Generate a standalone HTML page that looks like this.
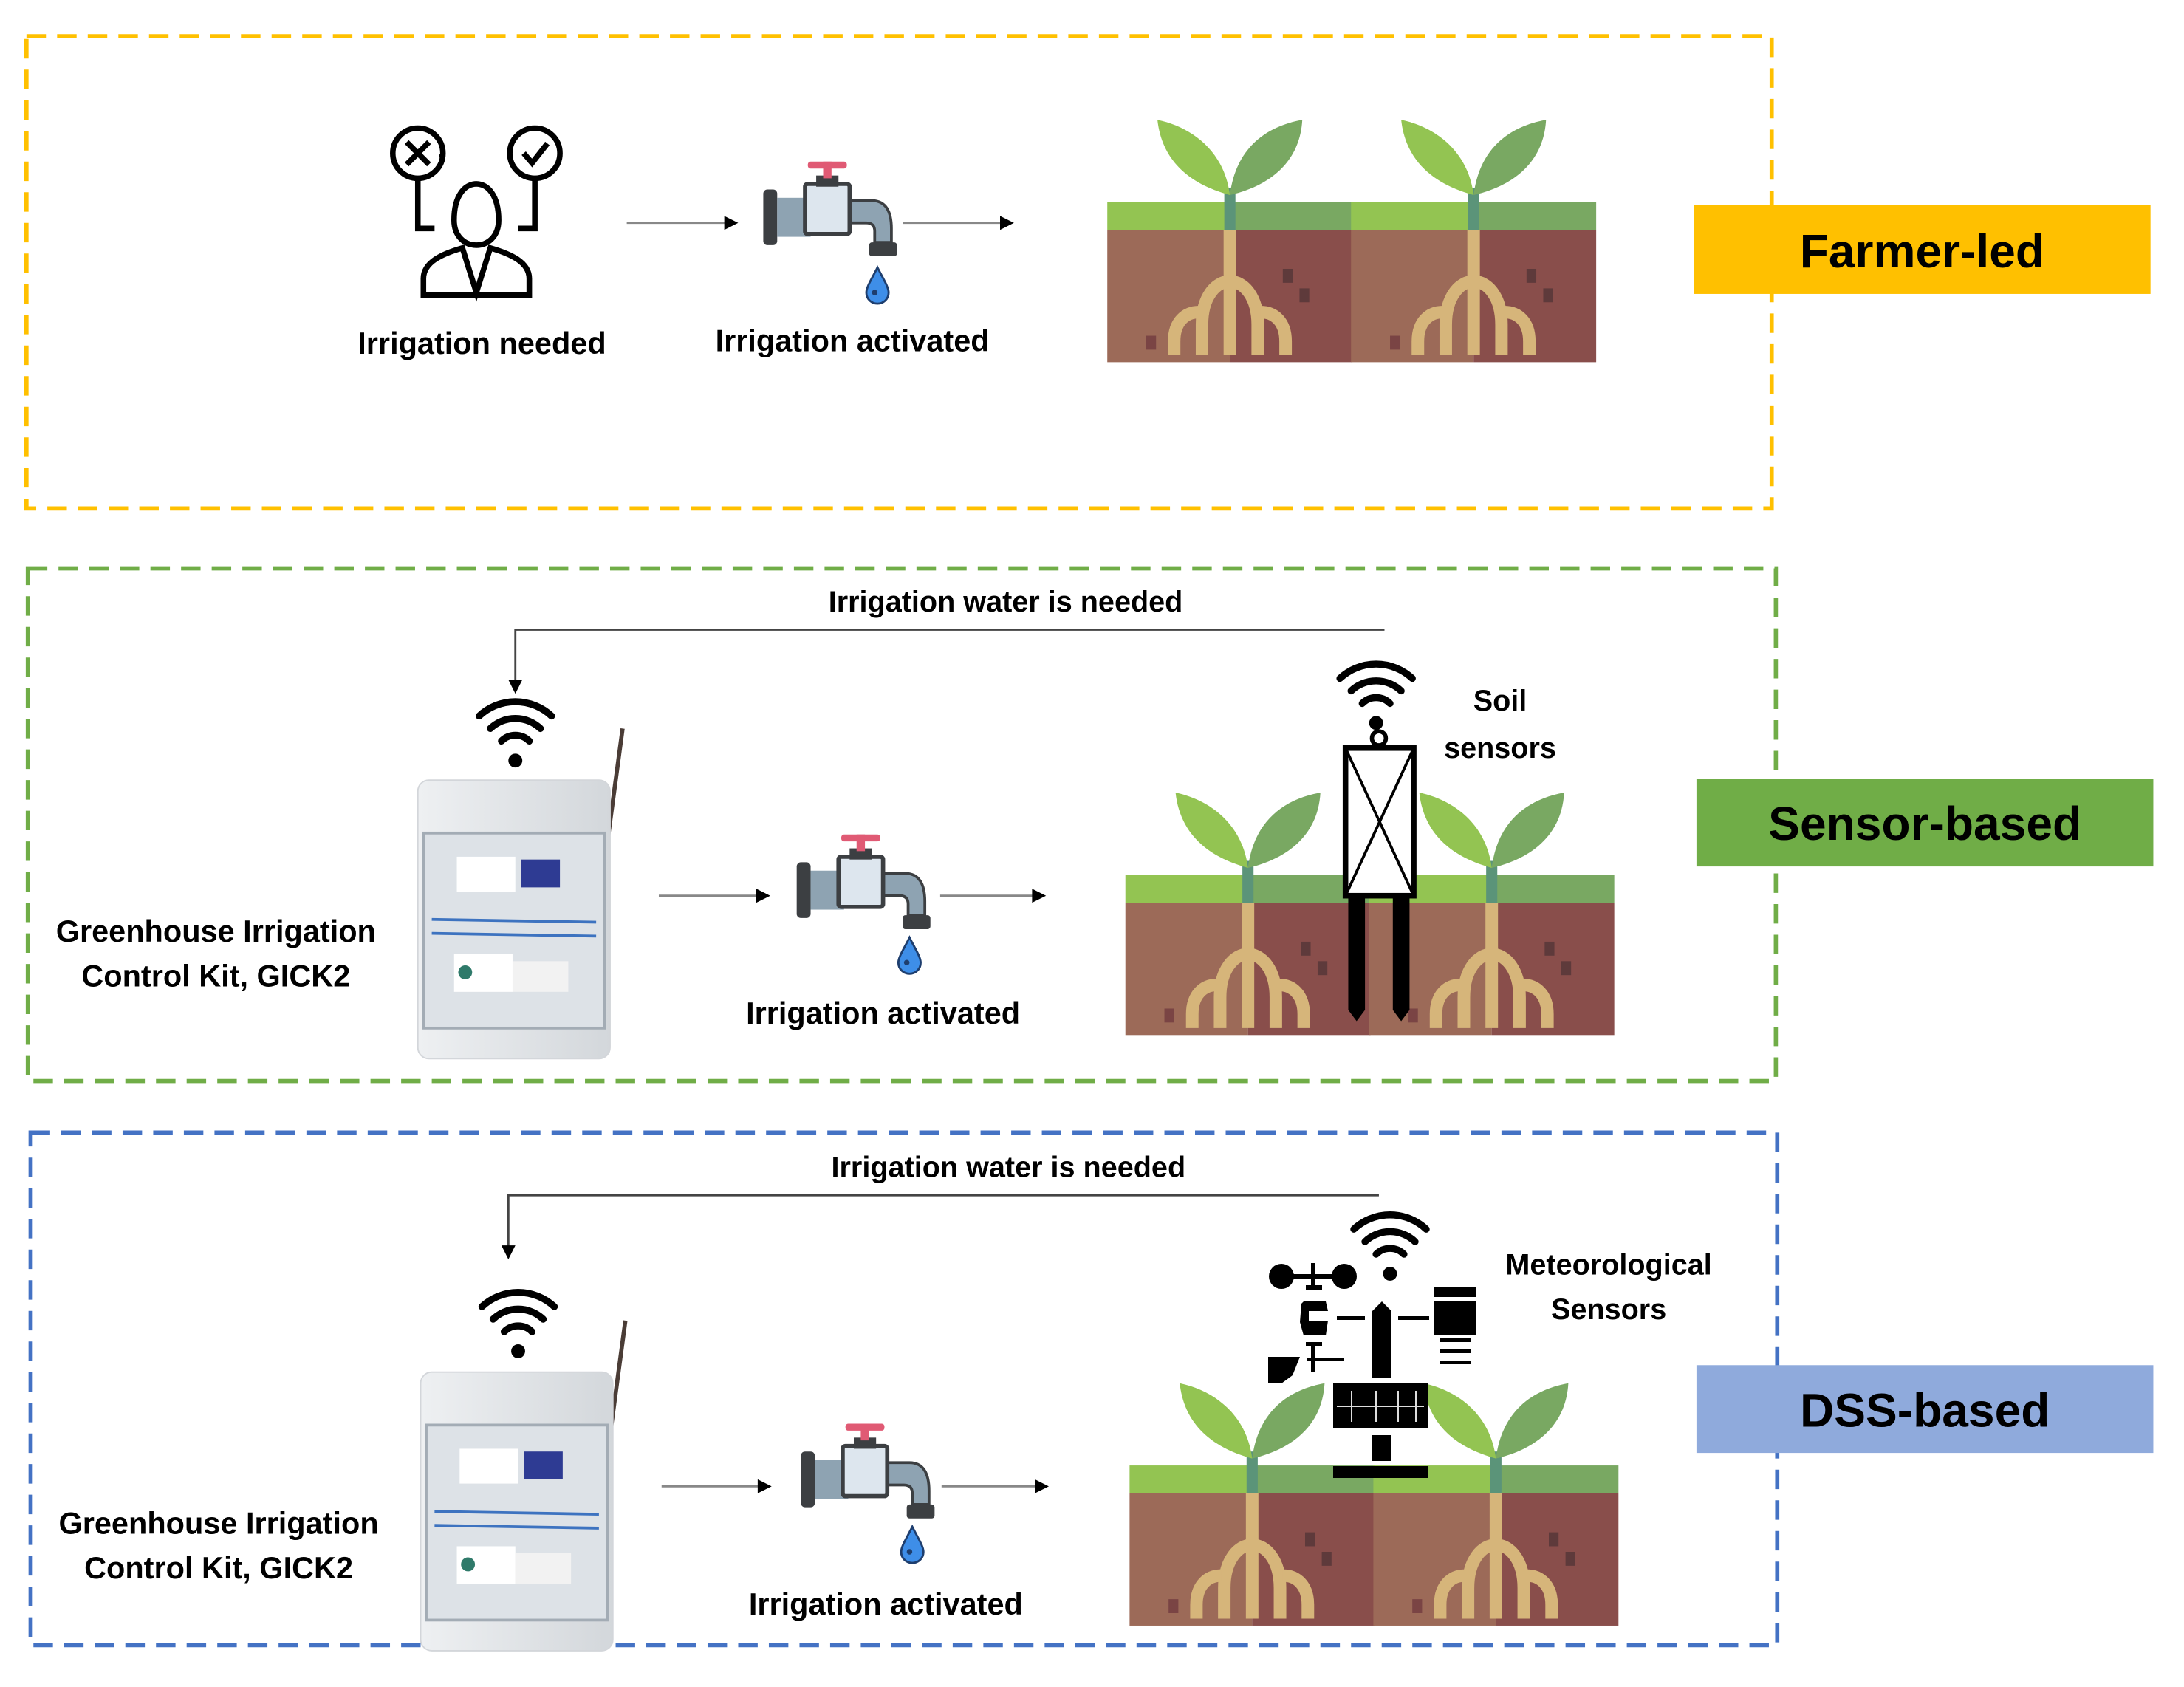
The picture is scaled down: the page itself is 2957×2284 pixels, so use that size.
<!DOCTYPE html>
<html><head><meta charset="utf-8"><style>
html,body{margin:0;padding:0;background:#fff;}
svg{display:block;}
text{font-family:"Liberation Sans",sans-serif;}
</style></head><body>
<svg width="2957" height="2284" viewBox="0 0 2957 2284" xmlns="http://www.w3.org/2000/svg">
<defs>
<g id="tile">
  <rect x="0" y="82" width="88" height="95" fill="#9c6a58"/>
  <rect x="88" y="82" width="88" height="95" fill="#894e4b"/>
  <rect x="0" y="62" width="88" height="20" fill="#93c452"/>
  <rect x="88" y="62" width="88" height="20" fill="#79a862"/>
  <rect x="84" y="52" width="8" height="30" fill="#5b9479"/>
  <path d="M88,57 C70,52 40,40 36,3 C60,8 84,25 88,57 Z" fill="#93c452"/>
  <path d="M88,57 C92,25 112,8 140,3 C138,38 110,52 88,57 Z" fill="#79a862"/>
  <g fill="none" stroke="#d6b57a" stroke-width="9">
    <line x1="88" y1="82" x2="88" y2="172"/>
    <path d="M68,172 V150 C68,130 78,119 88,119 C98,119 108,130 108,150 V172"/>
    <path d="M48,172 V162 C48,148 56,141 66,141"/>
    <path d="M128,172 V162 C128,148 120,141 110,141"/>
  </g>
  <rect x="126" y="110" width="7" height="10" fill="#5e3a3b"/>
  <rect x="138" y="124" width="7" height="10" fill="#5e3a3b"/>
  <rect x="28" y="158" width="7" height="10" fill="#7a4444"/>
</g>
<g id="plants">
  <use href="#tile" x="0" y="0"/>
  <use href="#tile" x="175" y="0"/>
</g>
<g id="faucet">
  <rect x="0" y="14" width="10" height="40" rx="3" fill="#3c3f42"/>
  <rect x="10" y="20" width="24" height="28" fill="#8ea3b2"/>
  <path d="M60,22 H78 C88,22 92,30 92,42 V52 H80 V44 C80,40 78,38 74,38 H60 Z" fill="#8ea3b2" stroke="#3c3f42" stroke-width="2"/>
  <rect x="76" y="52" width="20" height="10" rx="2" fill="#3c3f42"/>
  <rect x="30" y="10" width="32" height="36" rx="2" fill="#dde6ee" stroke="#3c3f42" stroke-width="3"/>
  <rect x="38" y="4" width="16" height="8" fill="#3c3f42"/>
  <rect x="43" y="-6" width="6" height="12" fill="#e05a74"/>
  <rect x="32" y="-6" width="28" height="5" rx="2" fill="#e05a74"/>
</g>
<g id="drop">
  <path d="M0,-12 C4,-4 8,2 8,6 C8,11 4,14 0,14 C-4,14 -8,11 -8,6 C-8,2 -4,-4 0,-12 Z" fill="#3e8ee8" stroke="#1e3e6e" stroke-width="1.5"/>
  <circle cx="-2" cy="6" r="2" fill="#1e3e6e"/>
</g>
<g id="wifi" fill="none" stroke="#000" stroke-width="5" stroke-linecap="round">
  <path d="M-26,-10 A38,38 0 0 1 26,-10"/>
  <path d="M-18,-1 A26,26 0 0 1 18,-1"/>
  <path d="M-10,8 A14,14 0 0 1 10,8"/>
  <circle cx="0" cy="22" r="5" fill="#000" stroke="none"/>
</g>
<linearGradient id="gb" x1="0" x2="1"><stop offset="0" stop-color="#eef0f2"/><stop offset="1" stop-color="#d3d7db"/></linearGradient>
<g id="box">
  <line x1="136" y1="45" x2="147" y2="-37" stroke="#4a3c36" stroke-width="3"/>
  <rect x="0" y="0" width="138" height="200" rx="8" fill="url(#gb)" stroke="#d3d6da"/>
  <rect x="4" y="38" width="130" height="140" fill="#dde2e7" stroke="#a3acb5" stroke-width="2"/>
  <rect x="28" y="55" width="42" height="25" fill="#fff"/>
  <rect x="74" y="57" width="28" height="20" fill="#2e3b93"/>
  <line x1="10" y1="100" x2="128" y2="102" stroke="#3d73c0" stroke-width="2"/>
  <line x1="10" y1="110" x2="128" y2="112" stroke="#3d73c0" stroke-width="2"/>
  <rect x="26" y="125" width="42" height="27" fill="#fff"/>
  <rect x="68" y="130" width="40" height="22" fill="#f2f2f2"/>
  <circle cx="34" cy="138" r="5" fill="#2f7a6a"/>
</g>
</defs>

<g transform="scale(1.8858,1.886)">
  <rect x="19" y="26" width="1253" height="339" fill="none" stroke="#ffc000" stroke-width="3" stroke-dasharray="14,8"/>
  <rect x="20" y="408" width="1255" height="368" fill="none" stroke="#70ad47" stroke-width="3" stroke-dasharray="14,8"/>
  <rect x="22" y="813" width="1254" height="368" fill="none" stroke="#4472c4" stroke-width="3" stroke-dasharray="14,8"/>

  <rect x="1216" y="147" width="328" height="64" fill="#ffc000"/>
  <text x="1380" y="192" font-size="34" font-weight="bold" text-anchor="middle">Farmer-led</text>
  <rect x="1218" y="559" width="328" height="63" fill="#70ad47"/>
  <text x="1382" y="603" font-size="34" font-weight="bold" text-anchor="middle">Sensor-based</text>
  <rect x="1218" y="980" width="328" height="63" fill="#8faadc"/>
  <text x="1382" y="1024" font-size="34" font-weight="bold" text-anchor="middle">DSS-based</text>

  <g fill="none" stroke="#000" stroke-width="4">
    <circle cx="300" cy="110" r="18"/>
    <path d="M292,102 L308,118 M308,102 L292,118"/>
    <circle cx="384" cy="110" r="18"/>
    <path d="M376,110 L382,117 L393,103"/>
    <path d="M300,128 V164 H312"/>
    <path d="M384,128 V164 H372"/>
    <path d="M326,158 C326,140 334,132 342,132 C350,132 358,140 358,158 C358,170 350,176 342,176 C334,176 326,170 326,158 Z"/>
    <path d="M304,212 V200 C304,188 318,182 332,178 L342,210 L352,178 C366,182 380,188 380,200 V212 Z"/>
  </g>
  <circle cx="317" cy="112" r="1.8" fill="#000"/>
  <line x1="450" y1="160" x2="522" y2="160" stroke="#888" stroke-width="1.5"/>
  <path d="M520,155 L530,160 L520,165 Z" fill="#000"/>
  <use href="#faucet" x="548" y="122"/>
  <use href="#drop" x="630" y="204"/>
  <line x1="648" y1="160" x2="720" y2="160" stroke="#888" stroke-width="1.5"/>
  <path d="M718,155 L728,160 L718,165 Z" fill="#000"/>
  <use href="#plants" x="795" y="83"/>
  <text x="346" y="254" font-size="22" font-weight="bold" text-anchor="middle">Irrigation needed</text>
  <text x="612" y="252" font-size="22" font-weight="bold" text-anchor="middle">Irrigation activated</text>

  <text x="722" y="439" font-size="21" font-weight="bold" text-anchor="middle">Irrigation water is needed</text>
  <path d="M994,452 H370 V490" fill="none" stroke="#444" stroke-width="1.5"/>
  <path d="M365,488 L370,498 L375,488 Z" fill="#000"/>
  <use href="#wifi" x="370" y="524"/>
  <use href="#box" x="300" y="560"/>
  <text x="155" y="676" font-size="22" font-weight="bold" text-anchor="middle">Greenhouse Irrigation</text>
  <text x="155" y="708" font-size="22" font-weight="bold" text-anchor="middle">Control Kit, GICK2</text>
  <line x1="473" y1="643" x2="545" y2="643" stroke="#888" stroke-width="1.5"/>
  <path d="M543,638 L553,643 L543,648 Z" fill="#000"/>
  <use href="#faucet" x="572" y="605"/>
  <use href="#drop" x="653" y="685"/>
  <line x1="675" y1="643" x2="743" y2="643" stroke="#888" stroke-width="1.5"/>
  <path d="M741,638 L751,643 L741,648 Z" fill="#000"/>
  <text x="634" y="735" font-size="22" font-weight="bold" text-anchor="middle">Irrigation activated</text>
  <use href="#plants" x="808" y="566"/>
  <use href="#wifi" x="988" y="497"/>
  <circle cx="990" cy="530" r="5" fill="none" stroke="#000" stroke-width="3"/>
  <rect x="966" y="537" width="49" height="106" fill="#fff" stroke="#000" stroke-width="4"/>
  <path d="M966,537 L1015,643 M1015,537 L966,643" stroke="#000" stroke-width="2"/>
  <path d="M968,643 H980 V725 L974,733 L968,725 Z M1000,643 H1012 V725 L1006,733 L1000,725 Z" fill="#000"/>
  <text x="1077" y="510" font-size="21" font-weight="bold" text-anchor="middle">Soil</text>
  <text x="1077" y="544" font-size="21" font-weight="bold" text-anchor="middle">sensors</text>

  <text x="724" y="845" font-size="21" font-weight="bold" text-anchor="middle">Irrigation water is needed</text>
  <path d="M990,858 H365 V896" fill="none" stroke="#444" stroke-width="1.5"/>
  <path d="M360,894 L365,904 L370,894 Z" fill="#000"/>
  <use href="#wifi" x="372" y="948"/>
  <use href="#box" x="302" y="985"/>
  <text x="157" y="1101" font-size="22" font-weight="bold" text-anchor="middle">Greenhouse Irrigation</text>
  <text x="157" y="1133" font-size="22" font-weight="bold" text-anchor="middle">Control Kit, GICK2</text>
  <line x1="475" y1="1067" x2="546" y2="1067" stroke="#888" stroke-width="1.5"/>
  <path d="M544,1062 L554,1067 L544,1072 Z" fill="#000"/>
  <use href="#faucet" x="575" y="1028"/>
  <use href="#drop" x="655" y="1108"/>
  <line x1="676" y1="1067" x2="745" y2="1067" stroke="#888" stroke-width="1.5"/>
  <path d="M743,1062 L753,1067 L743,1072 Z" fill="#000"/>
  <text x="636" y="1159" font-size="22" font-weight="bold" text-anchor="middle">Irrigation activated</text>
  <use href="#plants" x="811" y="990"/>
  <text x="1155" y="915" font-size="21" font-weight="bold" text-anchor="middle">Meteorological</text>
  <text x="1155" y="947" font-size="21" font-weight="bold" text-anchor="middle">Sensors</text>
</g>

<g fill="#000">
  <use href="#wifi" transform="translate(1882,1683) scale(1.886)"/>
  <circle cx="1735" cy="1728" r="17"/>
  <circle cx="1820" cy="1728" r="17"/>
  <rect x="1735" y="1725" width="85" height="6"/>
  <rect x="1775" y="1710" width="6" height="36"/>
  <rect x="1768" y="1740" width="22" height="6"/>
  <path d="M1765,1762 H1795 L1798,1775 H1772 V1788 H1798 L1795,1808 H1765 L1760,1790 L1762,1765 Z"/>
  <rect x="1810" y="1782" width="38" height="5"/>
  <rect x="1775" y="1817" width="6" height="40"/>
  <rect x="1768" y="1817" width="22" height="5"/>
  <rect x="1770" y="1838" width="50" height="5"/>
  <path d="M1717,1837 H1760 L1750,1862 L1735,1873 H1717 Z"/>
  <path d="M1858,1775 L1871,1762 L1884,1775 V1865 H1858 Z"/>
  <rect x="1893" y="1782" width="42" height="5"/>
  <rect x="1942" y="1742" width="57" height="14"/>
  <rect x="1942" y="1762" width="57" height="45"/>
  <rect x="1950" y="1812" width="41" height="5"/>
  <rect x="1950" y="1827" width="41" height="5"/>
  <rect x="1950" y="1842" width="41" height="5"/>
  <rect x="1805" y="1873" width="128" height="60"/>
  <rect x="1858" y="1943" width="25" height="35"/>
  <rect x="1805" y="1985" width="128" height="16"/>
</g>
<g stroke="#ddd" stroke-width="2">
  <line x1="1810" y1="1904" x2="1928" y2="1904"/>
  <line x1="1830" y1="1883" x2="1830" y2="1925"/>
  <line x1="1863" y1="1883" x2="1863" y2="1925"/>
  <line x1="1893" y1="1883" x2="1893" y2="1925"/>
  <line x1="1917" y1="1883" x2="1917" y2="1925"/>
</g>
</svg>
</body></html>
